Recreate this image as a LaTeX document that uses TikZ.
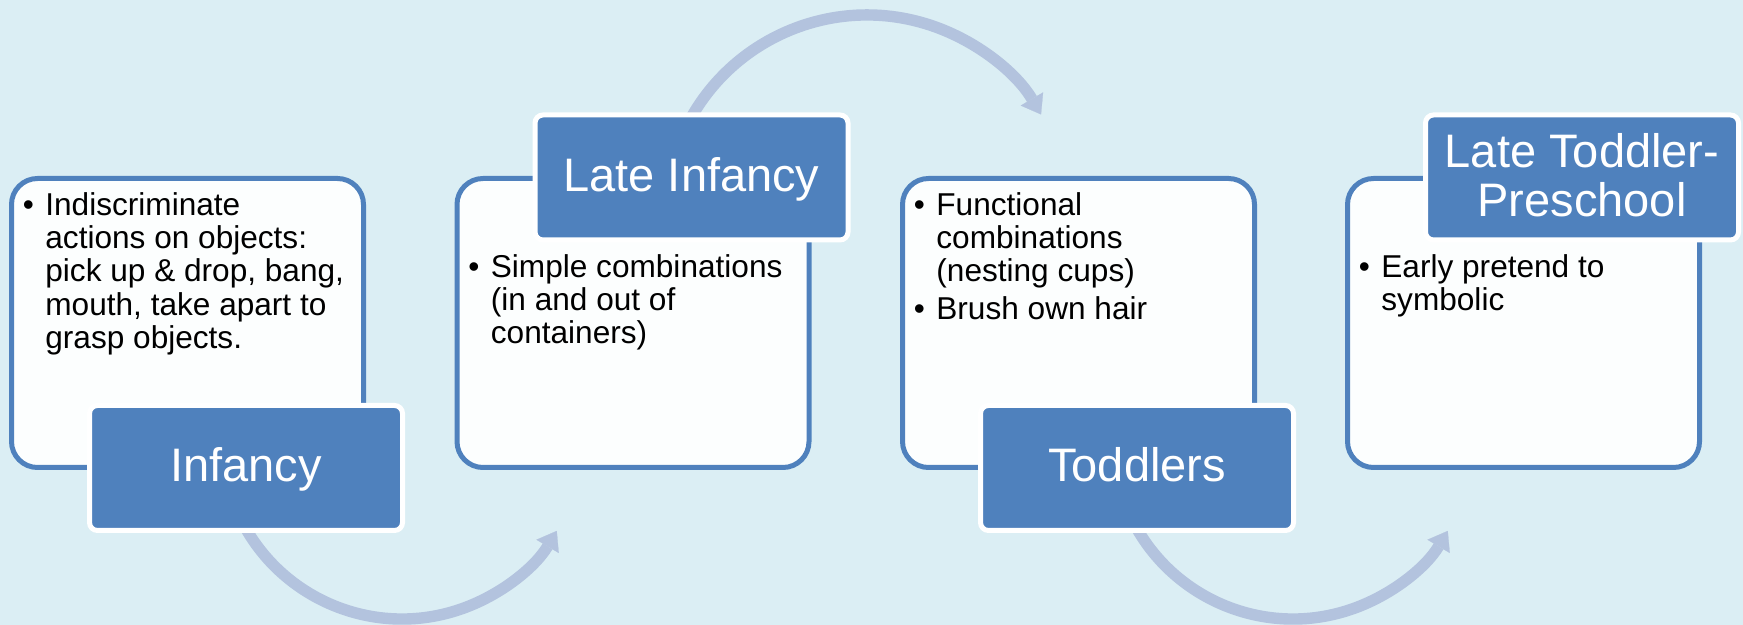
\documentclass[tikz,border=0pt]{standalone}
\usepackage{fontspec}
\setmainfont{Liberation Sans}
\usetikzlibrary{arrows.meta}
\definecolor{bgc}{HTML}{DBEEF4}
\definecolor{boxfill}{HTML}{FCFEFE}
\definecolor{accent}{HTML}{4F81BD}
\definecolor{arcc}{HTML}{B3C3DE}
\pgfdeclarelayer{bg}
\pgfsetlayers{bg,main}
\newcommand\bul{\makebox[11.25pt][l]{\textbullet}}
\begin{document}
\begin{tikzpicture}[x=0.5pt,y=0.5pt,
  card/.style={draw=accent, fill=boxfill, line width=2.5pt, rounded corners=13pt,
    minimum width=176pt, minimum height=144.5pt, inner sep=0pt},
  tag/.style={draw=white, fill=accent, line width=2.5pt, rounded corners=4pt,
    minimum width=156.5pt, minimum height=62.5pt, inner sep=0pt, text=white,
    font=\fontsize{23.5}{24.5}\selectfont, text height=16.8pt, text depth=2.8pt},
  tagtxt/.style={text=white, font=\fontsize{23.5}{24.5}\selectfont, inner sep=0pt, anchor=base},
  body/.style={anchor=north west, inner sep=0pt, font=\fontsize{15.8}{16.6}\selectfont, text=black},
  flow/.style={draw=arcc, line width=5.7pt,
    -{Triangle[length=9pt,width=13pt,line width=0.1pt]}}
]
\useasboundingbox (0,0) rectangle (1743,625);

% cards
\node[card] (c1) at (187.5,302) {};
\node[card] (c2) at (633,302) {};
\node[card] (c3) at (1078.5,302) {};
\node[card] (c4) at (1523.5,302) {};

% card texts
\node[body] (t1) at (22.5,433.2) {\begin{tabular}{@{}l@{}l@{}}
\bul&Indiscriminate\\
&actions on objects:\\
&pick up \& drop, bang,\\
&mouth, take apart to\\
&grasp objects.
\end{tabular}};
\node[body] (t2) at (468,371.2) {\begin{tabular}{@{}l@{}l@{}}
\bul&Simple combinations\\
&(in and out of\\
&containers)
\end{tabular}};
\node[body] (t3) at (913.5,433.2) {\begin{tabular}{@{}l@{}l@{}}
\bul&Functional\\
&combinations\\
&(nesting cups)\\[2.4pt]
\bul&Brush own hair
\end{tabular}};
\node[body] (t4) at (1358.5,371.2) {\begin{tabular}{@{}l@{}l@{}}
\bul&Early pretend to\\
&symbolic
\end{tabular}};

% tags
\node[tag] (l1) at (246,157) {Infancy};
\node[tag] (l2) at (691.5,447.5) {Late Infancy};
\node[tag] (l3) at (1137,157) {Toddlers};
\node[tag] (l4) at (1582,447.5) {};
\node[tagtxt] (l4a) at (1582,457) {Late Toddler-};
\node[tagtxt] (l4b) at (1582,408) {Preschool};

% arcs
\coordinate (a1) at (402,186);
\coordinate (a2) at (867,408);
\coordinate (a3) at (1293,186);
\begin{pgfonlayer}{bg}
\fill[bgc] (0,0) rectangle (1743,625);
\draw[flow] (a1) ++(-160:180) arc[start angle=-160, end angle=-30.7, radius=180];
\draw[flow] (a2) ++(160:202) arc[start angle=160, end angle=30.5, radius=202];
\draw[flow] (a3) ++(-160:180) arc[start angle=-160, end angle=-30.7, radius=180];
\end{pgfonlayer}
\end{tikzpicture}
\end{document}
